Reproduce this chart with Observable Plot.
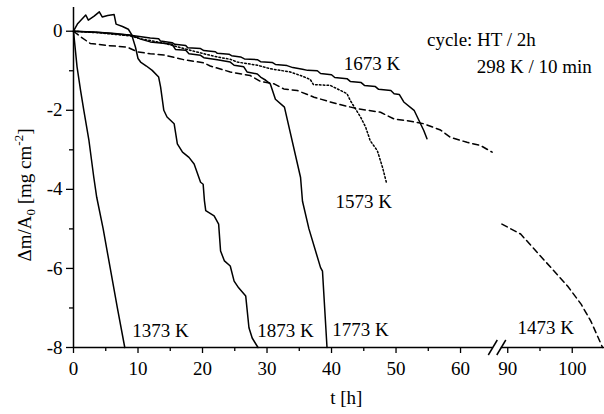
<!DOCTYPE html>
<html><head><meta charset="utf-8">
<script src="https://cdn.jsdelivr.net/npm/d3@7"></script>
<script src="https://cdn.jsdelivr.net/npm/@observablehq/plot@0.6"></script>
<style>body{margin:0;background:#fff} svg{display:block}</style>
</head><body><div id="chart"></div>
<script>
// ---- data (t in hours, v = Δm/A0 in mg cm^-2) ----
const t1373 = [0, 0.55, 1.1, 1.6, 2.4, 3.15, 3.6, 4.6, 5.7, 6.8, 7.95];
const v1373 = [0, -0.9, -1.5, -2, -2.77, -3.7, -4.2, -5, -6, -7, -8];

const t1873 = [0, 0.6, 1.9, 2.3, 3.2, 4.0, 4.45, 5.3, 6.3, 6.6, 7.6, 8.5, 9.0, 9.6, 10.0, 10.4, 11.3, 12.2, 13.2, 13.5, 14.0, 14.5, 15.6, 16.1, 16.9, 17.9, 18.7, 19.7, 20.1, 20.3, 20.5, 21.8, 22.5, 22.8, 23.4, 24.3, 24.9, 25.6, 26.7, 27.2, 27.7, 28.6];
const v1873 = [0, 0.18, 0.41, 0.28, 0.38, 0.49, 0.36, 0.4, 0.42, 0.18, 0.12, 0.05, -0.08, -0.4, -0.69, -0.78, -0.88, -0.99, -1.16, -1.41, -2, -2.17, -2.34, -2.85, -3.06, -3.19, -3.36, -3.82, -3.87, -4.29, -4.54, -4.67, -4.88, -5.56, -5.81, -5.94, -6.32, -6.49, -6.7, -7.5, -7.76, -8];

const t1773 = [0, 3, 6, 9, 10.4, 11.9, 13.5, 15.3, 15.8, 17.4, 17.9, 19.7, 20.2, 22.3, 24.3, 24.9, 26.4, 26.9, 28.5, 29.0, 29.8, 30.5, 31.3, 32.7, 35.2, 35.5, 36.5, 38.3, 38.6, 39.3];
const v1773 = [0, -0.02, -0.05, -0.1, -0.2, -0.27, -0.3, -0.33, -0.46, -0.48, -0.57, -0.61, -0.67, -0.72, -0.78, -0.86, -0.9, -1.03, -1.08, -1.16, -1.24, -1.33, -1.72, -1.92, -3.7, -4.3, -5.0, -5.98, -6.07, -8];

const t1673 = [0, 4, 8.8, 11.9, 13.2, 13.5, 15.3, 15.7, 17.4, 17.7, 19.7, 20.2, 22.0, 22.3, 24.1, 24.5, 25.9, 26.5, 28.5, 29.0, 30.8, 31.3, 33.1, 34.0, 35.5, 36.3, 37.8, 38.3, 40.0, 40.5, 42.4, 42.9, 44.6, 45.1, 46.8, 47.3, 49.2, 49.7, 50.5, 51.2, 52.8, 54.3, 54.8];
const v1673 = [0, -0.03, -0.1, -0.17, -0.19, -0.25, -0.29, -0.33, -0.36, -0.42, -0.44, -0.49, -0.52, -0.56, -0.58, -0.62, -0.65, -0.7, -0.72, -0.77, -0.79, -0.84, -0.87, -0.92, -0.96, -0.99, -1.0, -1.07, -1.1, -1.17, -1.2, -1.27, -1.3, -1.37, -1.4, -1.47, -1.5, -1.58, -1.6, -1.79, -2.0, -2.51, -2.72];

const t1573 = [0, 4, 8.8, 10.4, 14, 17.6, 20.2, 22.3, 24.3, 25.4, 28.5, 30.5, 33.6, 35.2, 36.7, 37.2, 39.8, 42.4, 42.9, 44.5, 45.3, 46, 47.1, 47.9, 48.5];
const v1573 = [0, -0.04, -0.12, -0.19, -0.3, -0.46, -0.57, -0.65, -0.71, -0.78, -0.86, -0.95, -1.03, -1.12, -1.22, -1.35, -1.37, -1.58, -1.75, -2.17, -2.43, -2.77, -3.02, -3.44, -3.82];

const t1473a = [0, 1.1, 2.6, 5.2, 8.3, 9.9, 11.9, 14, 17.1, 20.2, 21.2, 24.3, 27.4, 29, 31.1, 32.6, 34.7, 37.3, 40.9, 44, 47.6, 49.7, 51.7, 54.3, 56.9, 58.4, 61, 63.1, 64.9];
const v1473a = [0, -0.14, -0.31, -0.36, -0.4, -0.52, -0.57, -0.6, -0.72, -0.8, -0.88, -1.03, -1.12, -1.27, -1.33, -1.46, -1.5, -1.67, -1.84, -1.96, -2.05, -2.22, -2.26, -2.34, -2.5, -2.68, -2.81, -2.89, -3.06];
const t1473b = [89.1, 92, 94.6, 96.7, 99.3, 101.4, 102.9, 104.7];
const v1473b = [-4.88, -5.13, -5.6, -5.98, -6.45, -6.91, -7.34, -8];

const labelText = ["1673 K", "1573 K", "1373 K", "1873 K", "1773 K", "1473 K"];
const labelT = [41.9, 40.6, 9.1, 28.5, 40.1, 91.5];
const labelV = [-0.97, -4.46, -7.74, -7.74, -7.72, -7.65];

const noteText = ["cycle: HT / 2h", "298 K / 10 min"];
const noteT = [54.8, 62.5];
const noteV = [-0.37, -1.06];

const majorX = [0, 10, 20, 30, 40, 50, 60, 90, 100];
const minorX = [5, 15, 25, 35, 45, 55, 95];
const majorY = [0, -2, -4, -6, -8];
const minorY = [-1, -3, -5, -7];
const breakAt = [65, 89];       // axis break: 65 h ... 89 h
const xEnd = 105, yMin = -8, yMax = 0.6;

// ---- build tables ----
const rows = [];
function add(name, style, ts, vs, seg) {
  ts.forEach((t, i) => rows.push({name, style, seg: name + seg, t, v: vs[i]}));
}
add("1373", "solid", t1373, v1373, "a");
add("1873", "solid", t1873, v1873, "a");
add("1773", "solid", t1773, v1773, "a");
add("1673", "solid", t1673, v1673, "a");
add("1573", "dot", t1573, v1573, "a");
add("1473", "dash", t1473a, v1473a, "a");
add("1473", "dash", t1473b, v1473b, "b");

const labels = labelText.map((s, i) => ({s, t: labelT[i], v: labelV[i]}));
const notes = noteText.map((s, i) => ({s, t: noteT[i], v: noteV[i]}));
const axisSegments = [{from: 0, to: breakAt[0]}, {from: breakAt[1], to: xEnd}];

// ---- scale geometry ----
const W = 604, H = 414, mL = 73, mR = 0, mT = 7, mB = 67;
const gap = 8.5;
const k = (W - mL - mR - gap) / (breakAt[0] + (xEnd - breakAt[1]));
const xRange = [mL, mL + k * breakAt[0], mL + k * breakAt[0] + gap, W - mR];

const font = "'Liberation Serif', 'Times New Roman', serif";
const slash = {draw(ctx) { ctx.moveTo(-4.5, 7.5); ctx.lineTo(4.5, -7.5); }};

const chart = Plot.plot({
  width: W, height: H,
  marginTop: mT, marginBottom: mB, marginLeft: mL, marginRight: mR,
  style: {fontFamily: font, fontSize: "19px", background: "white", color: "black", overflow: "visible"},
  x: {type: "linear", domain: [0, breakAt[0], breakAt[1], xEnd], range: xRange},
  y: {type: "linear", domain: [yMin, yMax]},
  marks: [
    Plot.line(rows.filter(d => d.style === "solid"), {x: "t", y: "v", z: "seg", stroke: "black", strokeWidth: 1.5}),
    Plot.line(rows.filter(d => d.style === "dot"), {x: "t", y: "v", z: "seg", stroke: "black", strokeWidth: 1.5, strokeDasharray: "1.6,2.2"}),
    Plot.line(rows.filter(d => d.style === "dash"), {x: "t", y: "v", z: "seg", stroke: "black", strokeWidth: 1.5, strokeDasharray: "6,4"}),
    Plot.ruleX([0], {stroke: "black", strokeWidth: 1.5}),
    Plot.ruleY(axisSegments, {x1: "from", x2: "to", y: () => yMin, stroke: "black", strokeWidth: 1.5}),
    Plot.dot(breakAt, {x: d => d, y: () => yMin, symbol: slash, stroke: "black", fill: "none", strokeWidth: 1.5}),
    Plot.axisX({ticks: majorX, tickSize: 6, tickPadding: 8, tickFormat: d => String(d), label: null, strokeWidth: 1.3, fontSize: 19}),
    Plot.axisX({ticks: minorX, tickSize: 4, tickFormat: () => "", label: null, strokeWidth: 1.3}),
    Plot.axisY({ticks: majorY, tickSize: 7, tickPadding: 4, tickFormat: d => String(d), label: null, strokeWidth: 1.3, fontSize: 19}),
    Plot.axisY({ticks: minorY, tickSize: 4, tickFormat: () => "", label: null, strokeWidth: 1.3}),
    Plot.text(labels, {x: "t", y: "v", text: "s", textAnchor: "start", lineAnchor: "bottom", fontSize: 19, fill: "black"}),
    Plot.text(notes, {x: "t", y: "v", text: "s", textAnchor: "start", lineAnchor: "bottom", fontSize: 19, fill: "black"}),
    Plot.text(["t [h]"], {x: () => 42.3, y: () => yMin, dy: 56, text: d => d, lineAnchor: "bottom", fontSize: 19, fill: "black"})
  ]
});

// y-axis title with subscript / superscript
const svg = d3.select(chart);
const yl = svg.append("text")
  .attr("transform", "translate(30.5,195) rotate(-90)")
  .attr("text-anchor", "middle")
  .attr("font-family", font)
  .attr("font-size", 19)
  .attr("fill", "black");
yl.append("tspan").text("Δm/A");
yl.append("tspan").attr("font-size", 13).attr("dy", 4).text("0");
yl.append("tspan").attr("dy", -4).text(" [mg cm");
yl.append("tspan").attr("font-size", 13).attr("dy", -8).text("-2");
yl.append("tspan").attr("dy", 8).text("]");

document.getElementById("chart").appendChild(chart);
</script>
</body></html>
